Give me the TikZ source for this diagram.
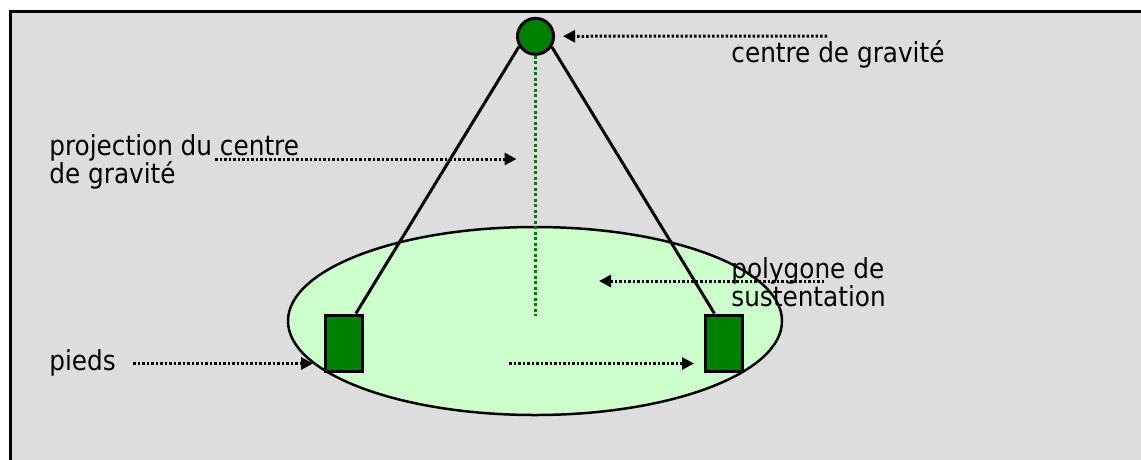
\documentclass[tikz,border=0pt]{standalone}
\usepackage{fontspec}
\setmainfont{DejaVu Sans Condensed}
\usepackage{tikz}
\usetikzlibrary{shapes.geometric}
\usetikzlibrary{arrows.meta}

\definecolor{fondgris}{HTML}{DDDDDD}
\definecolor{vertfonce}{HTML}{008000}
\definecolor{vertclair}{HTML}{CCFFCC}

\begin{document}
\begin{tikzpicture}[x=1pt,y=-1pt,thick,font=\fontsize{27.5}{28}\selectfont]
\tikzstyle{pied}=[rectangle,draw,line width=3pt,fill=vertfonce,minimum width=37pt,minimum height=56pt,inner sep=0pt]
\tikzstyle{fleche}=[-{Triangle[length=12pt,width=12pt]},line width=3pt,dash pattern=on 2.5pt off 2pt]
\tikzstyle{legende}=[anchor=base west,align=left,inner sep=0pt]
\useasboundingbox (0,0) rectangle (1141,459);
\clip (0,0) rectangle (1141,459);
\draw[line width=3.5pt,fill=fondgris] (10.7,11.7) rectangle (1180,500);
% polygone de sustentation
\node[ellipse,draw,line width=2.5pt,fill=vertclair,minimum width=494pt,minimum height=188pt,inner sep=0pt] (E) at (535,321) {};
\node[pied] (PG) at (344,343) {};
\node[pied] (PD) at (724,343) {};
\node[circle,draw,line width=3pt,fill=vertfonce,minimum size=36pt,inner sep=0pt] (G) at (535.5,36.3) {};
\draw[line width=3pt] (G.212) -- (PG.68)
                      (G.327) -- (PD.108);
\coordinate (Gbas) at (535.5,316);
\draw[vertfonce,line width=3.5pt,dash pattern=on 3pt off 2.5pt] (G.south) -- (Gbas);
% textes
\node[legende] (Lcg)   at (731,62)  {centre de gravité};
\node[legende] (Lproj) at (49,183)  {projection du centre\\de gravité};
\node[legende] (Lpoly) at (731,306) {polygone de\\sustentation};
\node[legende] (Lpied) at (49,370)  {pieds};
% fleches
\coordinate (Acg)   at (827,36);
\coordinate (Aproj) at (215,159);
\coordinate (Bproj) at (535.5,159);
\coordinate (Apoly) at (824,281);
\coordinate (Bpoly) at (599,281);
\coordinate (Apied) at (133,363.5);
\coordinate (Apied2) at (509,363.5);
\draw[fleche,shorten >=8pt] (Acg) -- (G);
\draw[fleche,shorten >=19pt] (Aproj) -- (Bproj);
\draw[fleche] (Apoly) -- (Bpoly);
\draw[fleche,shorten >=11pt] (Apied) -- (PG.west |- Apied);
\draw[fleche,shorten >=10pt] (Apied2) -- (PD.west |- Apied2);
\end{tikzpicture}
\end{document}
